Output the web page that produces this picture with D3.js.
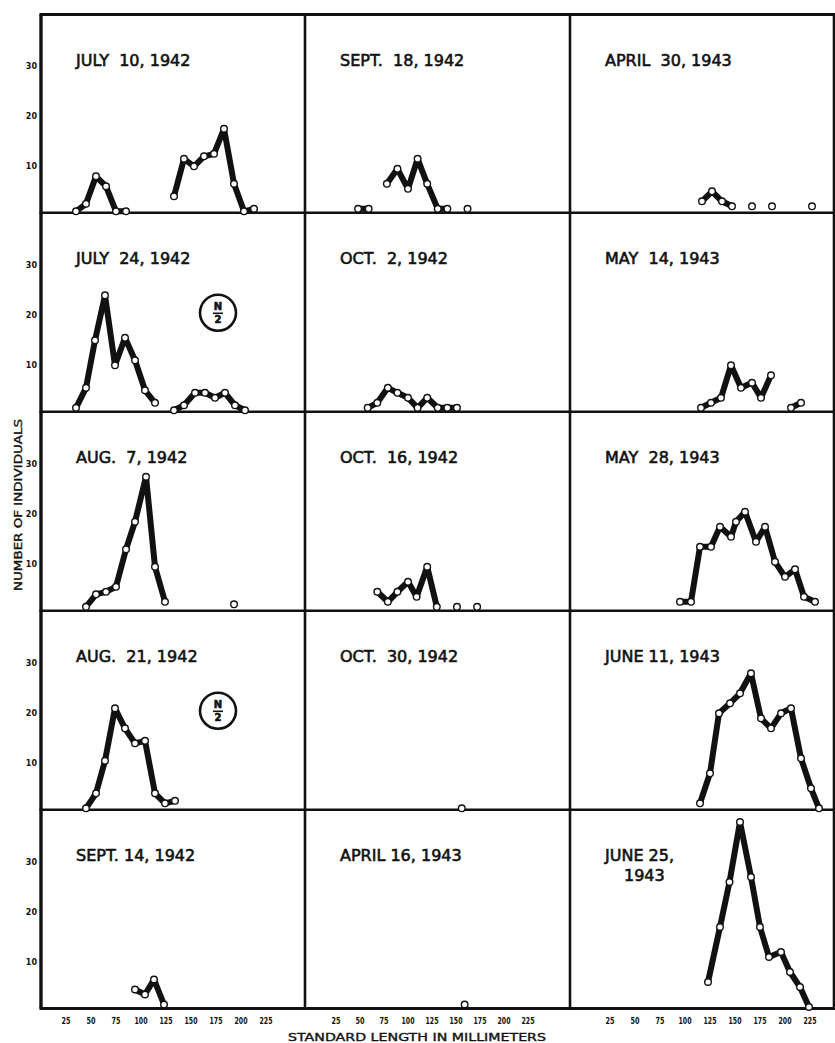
<!DOCTYPE html>
<html><head><meta charset="utf-8">
<script src="https://cdn.jsdelivr.net/npm/d3@7"></script>
<style>html,body{margin:0;padding:0;background:#fff} .t{white-space:pre}</style>
</head><body>
<svg id="c" width="835" height="1043"></svg>
<script>
// ---------- DATA (standard length in mm, number of individuals) ----------
// null separates unconnected runs of points
const jul10Len = [35,45,55,65,75,85,null,133,143,153,163,173,183,193,203,213];
const jul10N   = [1,2.5,8,6,1,1,null,4,11.5,10,12,12.5,17.5,6.5,1,1.5];
const jul24Len = [35,45,54,64,74,84,94,104,114,null,133,143,154,164,174,184,194,204];
const jul24N   = [1.5,5.5,15,24,10,15.5,11,5,2.5,null,1,2,4.5,4.5,3.5,4.5,2,1];
const aug7Len  = [45,55,65,75,85,94,105,114,124,null,193];
const aug7N    = [1.5,4,4.5,5.5,13,18.5,27.5,9.5,2.5,null,2];
const aug21Len = [45,55,64,74,84,94,104,114,124,134];
const aug21N   = [1,4,10.5,21,17,14,14.5,4,2,2.5];
const sep14Len = [94,104,113,123];
const sep14N   = [4.5,3.5,6.5,1.5];
const sep18Len = [48,59,null,78,89,100,110,120,131,141,null,162];
const sep18N   = [1.5,1.5,null,6.5,9.5,5.5,11.5,6.5,1.5,1.5,null,1.5];
const oct2Len  = [58,68,79,89,100,110,120,131,141,151];
const oct2N    = [1.5,2.5,5.5,4.5,3.5,1.5,3.5,1.5,1.5,1.5];
const oct16Len = [68,79,89,100,109,120,130,null,151,null,172];
const oct16N   = [4.5,2.5,4.5,6.5,3.5,9.5,1.5,null,1.5,null,1.5];
const oct30Len = [156];
const oct30N   = [1];
const apr16Len = [159];
const apr16N   = [1.5];
const apr30Len = [117,127,137,147,null,167,null,187,null,227];
const apr30N   = [3,5,3,2,null,2,null,2,null,2];
const may14Len = [116,126,136,146,156,167,176,186,null,206,216];
const may14N   = [1.5,2.5,3.5,10,5.5,6.5,3.5,8,null,1.5,2.5];
const may28Len = [95,106,115,126,135,146,151,160,171,180,190,200,210,219,230];
const may28N   = [2.5,2.5,13.5,13.5,17.5,15.5,18.5,20.5,14.5,17.5,10.5,7.5,9,3.5,2.5];
const jun11Len = [115,125,134,145,155,166,176,186,196,206,216,226,234];
const jun11N   = [2,8,20,22,24,28,19,17,20,21,11,5,1];
const jun25Len = [123,135,144.5,155,166,175,184,196,205,215,224];
const jun25N   = [6,17,26,38,27,17,11,12,8,5,1];

// panel titles, column by column (top to bottom)
const titles = [
  ["JULY  10, 1942"], ["JULY  24, 1942"], ["AUG.  7, 1942"], ["AUG.  21, 1942"], ["SEPT. 14, 1942"],
  ["SEPT.  18, 1942"], ["OCT.  2, 1942"], ["OCT.  16, 1942"], ["OCT.  30, 1942"], ["APRIL 16, 1943"],
  ["APRIL  30, 1943"], ["MAY  14, 1943"], ["MAY  28, 1943"], ["JUNE 11, 1943"], ["JUNE 25,", "1943"]
];
const lengths = [jul10Len, jul24Len, aug7Len, aug21Len, sep14Len,
                 sep18Len, oct2Len, oct16Len, oct30Len, apr16Len,
                 apr30Len, may14Len, may28Len, jun11Len, jun25Len];
const counts  = [jul10N, jul24N, aug7N, aug21N, sep14N,
                 sep18N, oct2N, oct16N, oct30N, apr16N,
                 apr30N, may14N, may28N, jun11N, jun25N];
const halved = ["JULY  24, 1942", "AUG.  21, 1942"];   // plotted as N/2
const xTicks = [25,50,75,100,125,150,175,200,225];
const yTicks = [10,20,30];
const xTitle = "STANDARD LENGTH IN MILLIMETERS";
const yTitle = "NUMBER OF INDIVIDUALS";

// ---------- LAYOUT ----------
const svg = d3.select("#c");
const rowEdges = [14.5, 212.8, 411.8, 610.8, 809.8, 1008.5];
const colEdges = [41, 305, 570, 834];
// per-column x scales (each column's printed axis)
const xScales = [
  d3.scaleLinear().domain([0, 265]).range([41, 306]),
  d3.scaleLinear().domain([0, 270]).range([312, 571.2]),
  d3.scaleLinear().domain([0, 250]).range([585, 835])
];
const yScales = d3.range(5).map(r =>
  d3.scaleLinear().domain([0, 40]).range([rowEdges[r+1] + 3.5, rowEdges[r+1] + 3.5 - 200]));

const font = "'DejaVu Sans', sans-serif";
const ink = "#111";

// frame
const frame = svg.append("g").attr("stroke", ink).attr("fill", "none");
rowEdges.forEach((y, i) => {
  frame.append("line").attr("x1", colEdges[0] - 1.5).attr("x2", colEdges[3] + 1.5)
    .attr("y1", y).attr("y2", y)
    .attr("stroke-width", (i === 0 || i === rowEdges.length - 1) ? 3.2 : 2.6);
});
colEdges.forEach((x, i) => {
  frame.append("line").attr("x1", x).attr("x2", x)
    .attr("y1", rowEdges[0]).attr("y2", rowEdges[5])
    .attr("stroke-width", (i === 0) ? 3.4 : 2.6);
});

// medium-weight lettering helper
function letter(sel, size) {
  return sel.attr("font-family", font).attr("font-size", size)
    .attr("fill", ink).attr("stroke", ink).attr("stroke-width", 0.6);
}

// panels
titles.forEach((t, i) => {
  const col = Math.floor(i / 5), row = i % 5;
  const xs = xScales[col], ys = yScales[row];
  const pts = lengths[i].map((L, k) => ({L, n: counts[i][k]}));
  const g = svg.append("g");

  const line = d3.line().defined(d => d.n != null && d.L != null)
    .x(d => xs(d.L)).y(d => ys(d.n));
  g.append("path").datum(pts).attr("d", line)
    .attr("fill", "none").attr("stroke", ink).attr("stroke-width", 6)
    .attr("stroke-linejoin", "round").attr("stroke-linecap", "round");

  g.selectAll("circle").data(pts.filter(d => d.n != null)).join("circle")
    .attr("cx", d => xs(d.L)).attr("cy", d => ys(d.n)).attr("r", 3.3)
    .attr("fill", "#fff").attr("stroke", ink).attr("stroke-width", 1.4);

  // title
  const tx = colEdges[col] + 35, ty = rowEdges[row] + 51;
  t.forEach((s, j) => {
    letter(g.append("text").attr("class", "t").attr("x", tx + (j ? 19 : 0)).attr("y", ty + j * 20), 16)
      .text(s);
  });

  // N/2 badge
  if (halved.includes(t[0])) {
    const cx = 218, cy = rowEdges[row] + 100;
    g.append("circle").attr("cx", cx).attr("cy", cy).attr("r", 18)
      .attr("fill", "none").attr("stroke", ink).attr("stroke-width", 2.6);
    letter(g.append("text").attr("x", cx).attr("y", cy - 2.5).attr("text-anchor", "middle"), 10)
      .attr("font-weight", "bold").text("N");
    g.append("line").attr("x1", cx - 5).attr("x2", cx + 5).attr("y1", cy + 0.5).attr("y2", cy + 0.5)
      .attr("stroke", ink).attr("stroke-width", 1.6);
    letter(g.append("text").attr("x", cx).attr("y", cy + 10.5).attr("text-anchor", "middle"), 10)
      .attr("font-weight", "bold").text("2");
  }

  // y tick labels (first column only)
  if (col === 0) {
    g.selectAll(".yt").data(yTicks).join("text")
      .attr("x", 37).attr("y", d => ys(d) + 3).attr("text-anchor", "end")
      .attr("font-family", font).attr("font-weight", "bold").attr("font-size", 8)
      .attr("fill", ink).text(d => d);
  }
  // x tick labels (bottom row only)
  if (row === 4) {
    g.selectAll(".xt").data(xTicks).join("text")
      .attr("x", d => xs(d)).attr("y", 1024).attr("text-anchor", "middle")
      .attr("font-family", font).attr("font-weight", "bold").attr("font-size", 8)
      .attr("textLength", d => d >= 100 ? 13 : 9).attr("lengthAdjust", "spacingAndGlyphs")
      .attr("fill", ink).text(d => d);
  }
});

// axis titles
letter(svg.append("text").attr("x", 417).attr("y", 1041).attr("text-anchor", "middle"), 10.5)
  .attr("stroke-width", 0.35)
  .attr("textLength", 258).attr("lengthAdjust", "spacingAndGlyphs").text(xTitle);
letter(svg.append("text").attr("transform", "translate(22,505) rotate(-90)").attr("text-anchor", "middle"), 10.5)
  .attr("stroke-width", 0.35)
  .attr("textLength", 172).attr("lengthAdjust", "spacingAndGlyphs").text(yTitle);
</script>
</body></html>
